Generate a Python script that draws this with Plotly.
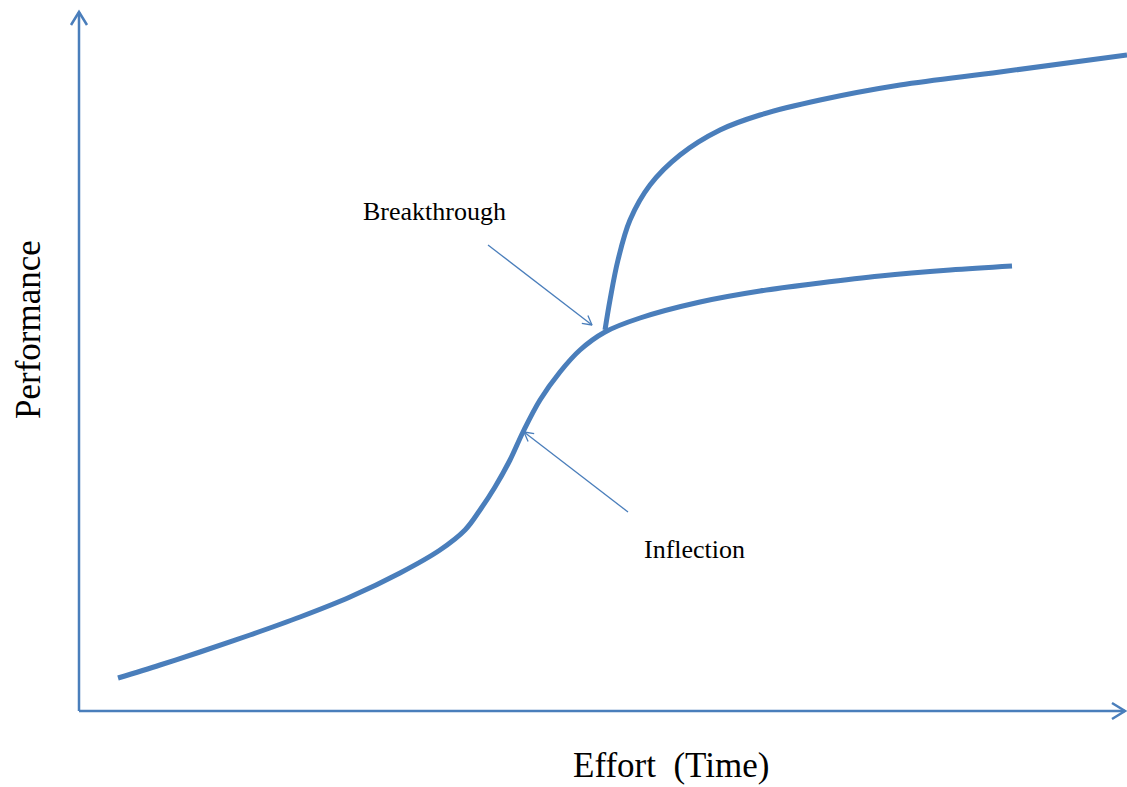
import numpy as np
import plotly.graph_objects as go

# Data (effort vs performance, arbitrary units)
effort_main = [39, 81, 121, 171, 221, 271, 321, 361, 386, 401, 416, 431, 444, 461,
               481, 501, 526, 561, 621, 681, 741, 801, 871, 933]
perf_main = [33, 46, 59, 76, 94, 114, 138, 161, 181, 201, 224, 251, 279, 311,
             339, 361, 379, 393, 409, 420, 428, 435, 441, 445]

effort_break = [526, 531, 539, 551, 571, 601, 641, 681, 741, 821, 921, 1048]
perf_break = [381, 411, 451, 491, 526, 556, 581, 596, 611, 626, 639, 656]

labels = ["Breakthrough", "Inflection"]
label_pos = [(355, 500), (615, 162)]
arrow_tail = [(409, 466), (549, 199)]
arrow_tip = [(513, 386), (445, 279)]

x_title = "Effort  (Time)"
y_title = "Performance"
x_axis_end = 1048
y_axis_end = 699

BLUE = "#4a7ebb"
FONT = "Liberation Serif, Times New Roman, serif"


def chevron(tail, tip, length, half):
    t = np.array(tip, float)
    d = t - np.array(tail, float)
    d /= np.linalg.norm(d)
    n = np.array([-d[1], d[0]])
    a = t - d * length + n * half
    b = t - d * length - n * half
    return [a[0], t[0], b[0]], [a[1], t[1], b[1]]


fig = go.Figure()

# axes
for tail, tip in [((0, 0), (x_axis_end - 2, 0)), ((0, 0), (0, y_axis_end))]:
    fig.add_trace(go.Scatter(x=[tail[0], tip[0]], y=[tail[1], tip[1]], mode="lines",
                             line=dict(color=BLUE, width=2.5), hoverinfo="skip"))
    cx, cy = chevron(tail, tip, 13, 8)
    fig.add_trace(go.Scatter(x=cx, y=cy, mode="lines",
                             line=dict(color=BLUE, width=2.5), hoverinfo="skip"))

# curves
fig.add_trace(go.Scatter(x=effort_main, y=perf_main, mode="lines", hoverinfo="skip",
                         line=dict(color=BLUE, width=5, shape="spline", smoothing=1.0)))
fig.add_trace(go.Scatter(x=effort_break, y=perf_break, mode="lines", hoverinfo="skip",
                         line=dict(color=BLUE, width=5, shape="spline", smoothing=1.0)))

# annotation arrows
for tail, tip in zip(arrow_tail, arrow_tip):
    fig.add_trace(go.Scatter(x=[tail[0], tip[0]], y=[tail[1], tip[1]], mode="lines",
                             line=dict(color=BLUE, width=1.3), hoverinfo="skip"))
    cx, cy = chevron(tail, tip, 9, 5)
    fig.add_trace(go.Scatter(x=cx, y=cy, mode="lines",
                             line=dict(color=BLUE, width=1.3), hoverinfo="skip"))

for text, (x, y) in zip(labels, label_pos):
    fig.add_annotation(x=x, y=y, text=text, showarrow=False,
                       font=dict(family=FONT, size=26, color="#000000"))

fig.add_annotation(x=592, y=-54, text=x_title, showarrow=False,
                   font=dict(family=FONT, size=35, color="#000000"))
fig.add_annotation(x=-51, y=381, text=y_title, showarrow=False, textangle=-90,
                   font=dict(family=FONT, size=35, color="#000000"))

fig.update_layout(
    width=1127, height=787,
    margin=dict(l=0, r=0, t=0, b=0),
    paper_bgcolor="white", plot_bgcolor="white",
    showlegend=False,
    xaxis=dict(range=[-79, 1048], visible=False, fixedrange=True),
    yaxis=dict(range=[-76, 711], visible=False, fixedrange=True),
)

fig.write_html(
    "out.html",
    config={"displayModeBar": False, "staticPlot": True},
    post_script="document.body.style.margin='0px';document.body.style.overflow='hidden';",
)
